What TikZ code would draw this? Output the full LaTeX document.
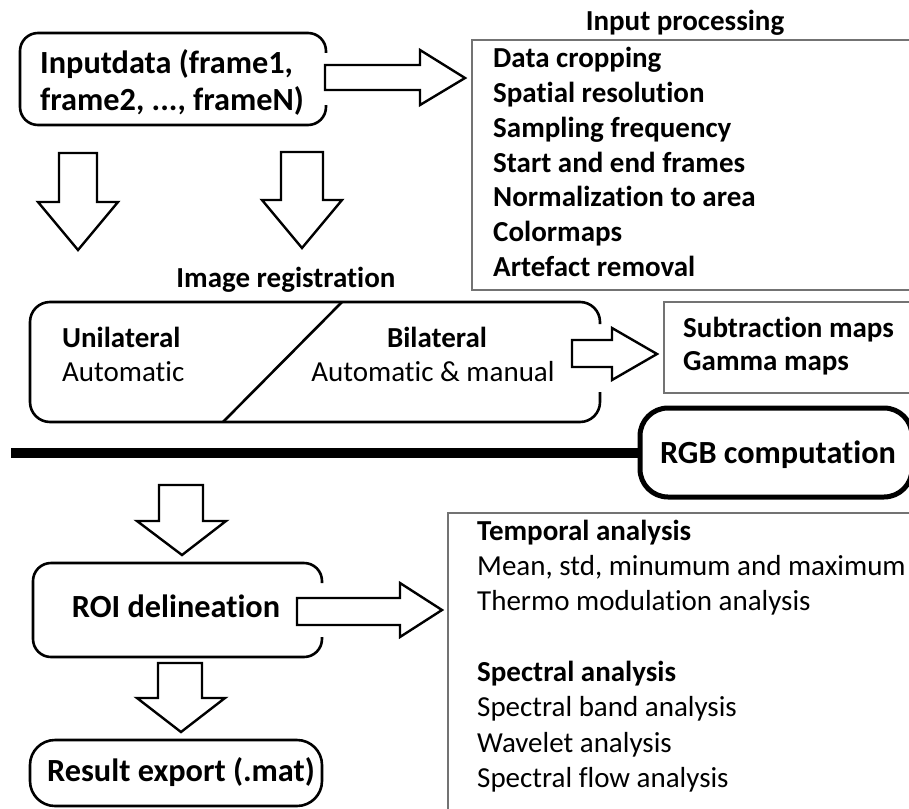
\documentclass[tikz,border=0pt]{standalone}
\usepackage{fontspec}
\setmainfont[Ligatures={NoCommon}]{Carlito}
\usetikzlibrary{calc}
\begin{document}
\begin{tikzpicture}[x=1pt,y=-1pt,
  every node/.style={inner sep=0pt, font=\fontsize{29}{35}\selectfont,
                     text height=18.5pt, text depth=0pt},
  hd/.style={font=\fontsize{29}{35}\selectfont\bfseries},
  bighd/.style={font=\fontsize{32.3}{38}\selectfont\bfseries, text height=20.5pt},
  boxline/.style={draw=black, line width=2.6pt},
  greybox/.style={draw=black!55, line width=1.6pt},
  blockarrow/.style={draw=black, line width=2.4pt, fill=white, line join=miter},
]
\clip (0,0) rectangle (909,808);

% ---------- input data ----------
\draw[boxline, rounded corners=18] (326,53) -- (326,33) -- (20,33) -- (20,125) -- (326,125) -- (326,105);
\node[bighd, anchor=west] (in1) at (40,63) {Inputdata (frame1,};
\node[bighd, anchor=west] (in2) at (40,100) {frame2, ..., frameN)};

% arrow to input processing
\draw[blockarrow] (325,65) -- (420,65) -- (420,50) -- (465,78) -- (420,105) -- (420,90) -- (325,90) -- cycle;

% ---------- input processing ----------
\node[hd] (iptitle) at (685,21) {Input processing};
\draw[greybox] (472,40) rectangle (930,290);
\node[hd, anchor=west] (ip1) at (493,58)    {Data cropping};
\node[hd, anchor=west] (ip2) at (493,93)    {Spatial resolution};
\node[hd, anchor=west] (ip3) at (493,128)   {Sampling frequency};
\node[hd, anchor=west] (ip4) at (493,163)   {Start and end frames};
\node[hd, anchor=west] (ip5) at (493,197.5) {Normalization to area};
\node[hd, anchor=west] (ip6) at (493,232.5) {Colormaps};
\node[hd, anchor=west] (ip7) at (493,267.5) {Artefact removal};

% ---------- down arrows to registration ----------
\draw[blockarrow] (59,153) -- (97,153) -- (97,202) -- (118,202) -- (78,250) -- (38,202) -- (59,202) -- cycle;
\draw[blockarrow] (281,152) -- (323,152) -- (323,200) -- (342,200) -- (302,248) -- (262,200) -- (281,200) -- cycle;

% ---------- image registration ----------
\node[hd] (regtitle) at (286,278) {Image registration};
\draw[boxline, rounded corners=20] (600,324) -- (600,302) -- (30,302) -- (30,422) -- (600,422) -- (600,392);
\draw[boxline] (342,302) -- (223,422);
\node[hd, anchor=west] (uni) at (62,338) {Unilateral};
\node[anchor=west] (uniauto) at (62,372) {Automatic};
\node[hd] (bi) at (437,338) {Bilateral};
\node (biauto) at (433,372) {Automatic \& manual};

% arrow to maps
\draw[blockarrow] (572,340) -- (612,340) -- (612,328) -- (657,354) -- (612,380) -- (612,367) -- (572,367) -- cycle;

\draw[greybox] (664,302) rectangle (930,393);
\node[hd, anchor=west] (sub) at (683,328) {Subtraction maps};
\node[hd, anchor=west] (gam) at (683,361) {Gamma maps};

% ---------- RGB computation ----------
\draw[draw=black, line width=10pt] (11,453) -- (642,453);
\draw[draw=black, line width=5pt, fill=white, rounded corners=28] (640,408) rectangle (912,497);
\node[bighd] (rgb) at (778,453) {RGB computation};

% ---------- ROI ----------
\draw[blockarrow] (159,485) -- (203,485) -- (203,521) -- (226,521) -- (182,555) -- (137,521) -- (159,521) -- cycle;
\draw[boxline, rounded corners=18] (322,583) -- (322,563) -- (33,563) -- (33,657) -- (322,657) -- (322,637);
\node[bighd] (roi) at (176,607) {ROI delineation};

% arrow to analysis
\draw[blockarrow] (297,598) -- (400,598) -- (400,583) -- (442,610) -- (400,637) -- (400,625) -- (297,625) -- cycle;

% down arrow to export
\draw[blockarrow] (158,663) -- (202,663) -- (202,698) -- (225,698) -- (181,732) -- (137,698) -- (158,698) -- cycle;

% ---------- result export ----------
\draw[boxline, rounded corners=25] (30,740) rectangle (322,806);
\node[bighd] (res) at (181,771) {Result export (.mat)};

% ---------- analysis ----------
\draw[greybox] (448,513) rectangle (930,840);
\node[hd, anchor=west] (ta) at (477,531)   {Temporal analysis};
\node[anchor=west] (ta1) at (477,566.3)    {Mean, std, minumum and maximum};
\node[anchor=west] (ta2) at (477,601.6)    {Thermo modulation analysis};
\node[hd, anchor=west] (sa) at (477,672.2) {Spectral analysis};
\node[anchor=west] (sa1) at (477,707.5)    {Spectral band analysis};
\node[anchor=west] (sa2) at (477,742.8)    {Wavelet analysis};
\node[anchor=west] (sa3) at (477,778.1)    {Spectral flow analysis};
\end{tikzpicture}
\end{document}
